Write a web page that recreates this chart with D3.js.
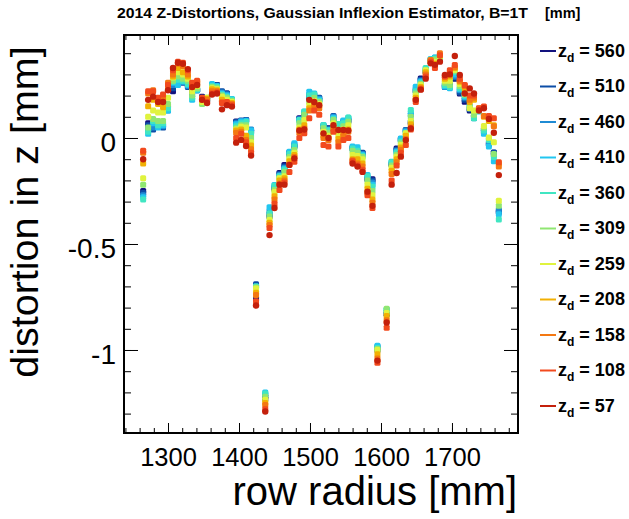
<!DOCTYPE html>
<html>
<head>
<meta charset="utf-8">
<script src="https://cdn.jsdelivr.net/npm/d3@7"></script>
<style>
  body { margin: 0; background: #fff; }
  svg { display: block; font-family: "Liberation Sans", Arial, Helvetica, sans-serif; }
</style>
</head>
<body>
<div id="chart"></div>
<script>
// row radii [mm]
var radius = [1265, 1272, 1279, 1286, 1293, 1300, 1307, 1314, 1321, 1328,
  1334, 1341, 1348, 1355, 1362, 1369, 1376, 1383, 1390, 1396,
  1403, 1410, 1417, 1424, 1437, 1443, 1450, 1457, 1464, 1471,
  1478, 1485, 1492, 1499, 1506, 1513, 1519, 1526, 1533, 1540,
  1547, 1554, 1560, 1567, 1574, 1581, 1588, 1595, 1608, 1615,
  1622, 1628, 1635, 1642, 1649, 1656, 1663, 1670, 1676, 1683,
  1690, 1697, 1704, 1711, 1718, 1725, 1731, 1738, 1745, 1752,
  1759, 1766];

// distortion in z [mm], one array per drift distance z_d
var z560 = [-0.25, 0.07, 0.06, 0.07, 0.06, 0.15, 0.22, 0.30, 0.27, 0.25,
  0.235, 0.226, 0.195, 0.185, 0.24, 0.25, 0.215, 0.21, 0.17, 0.078,
  0.08, 0.085, 0.03, -0.76, -1.23, -0.37, -0.24, -0.165, -0.127, -0.075,
  -0.04, 0.093, 0.11, 0.19, 0.19, 0.18, 0.05, 0.046, 0.09, 0.05,
  0.07, 0.08, -0.05, -0.107, -0.072, -0.195, -0.195, -1.0, -0.83, -0.125,
  -0.05, -0.005, 0.035, 0.07, 0.22, 0.281, 0.31, 0.36, 0.37, 0.37,
  0.24, 0.245, 0.28, 0.21, 0.171, 0.13, 0.1, 0.13, 0.04, -0.025,
  -0.07, -0.35];
var z510 = [-0.26, 0.06, 0.04, 0.06, 0.05, 0.14, 0.235, 0.28, 0.26, 0.24,
  0.22, 0.225, 0.19, 0.18, 0.245, 0.25, 0.22, 0.21, 0.175, 0.075,
  0.082, 0.085, 0.035, -0.69, -1.22, -0.36, -0.235, -0.17, -0.135, -0.07,
  -0.035, 0.09, 0.115, 0.2, 0.2, 0.19, 0.055, 0.045, 0.104, 0.046,
  0.075, 0.085, -0.045, -0.09, -0.07, -0.19, -0.2, -0.99, -0.83, -0.125,
  -0.055, -0.01, 0.038, 0.075, 0.225, 0.275, 0.315, 0.365, 0.375, 0.375,
  0.245, 0.25, 0.285, 0.215, 0.18, 0.135, 0.095, 0.135, 0.038, -0.03,
  -0.068, -0.345];
var z460 = [-0.27, 0.04, 0.05, 0.055, 0.055, 0.13, 0.25, 0.27, 0.27, 0.245,
  0.20, 0.225, 0.18, 0.18, 0.25, 0.245, 0.215, 0.205, 0.18, 0.07,
  0.08, 0.082, 0.04, -0.70, -1.21, -0.345, -0.23, -0.175, -0.14, -0.068,
  -0.03, 0.088, 0.12, 0.205, 0.205, 0.185, 0.058, 0.04, 0.1, 0.06,
  0.08, 0.09, -0.05, -0.06, -0.075, -0.185, -0.21, -0.985, -0.82, -0.118,
  -0.06, -0.01, 0.035, 0.11, 0.235, 0.27, 0.32, 0.37, 0.378, 0.38,
  0.25, 0.24, 0.29, 0.225, 0.19, 0.14, 0.093, 0.13, 0.03, -0.03,
  -0.08, -0.34];
var z410 = [-0.28, 0.02, 0.07, 0.05, 0.06, 0.13, 0.26, 0.25, 0.265, 0.25,
  0.18, 0.225, 0.17, 0.18, 0.255, 0.245, 0.21, 0.2, 0.184, 0.065,
  0.078, 0.08, 0.035, -0.70, -1.20, -0.327, -0.222, -0.18, -0.145, -0.065,
  -0.025, 0.082, 0.125, 0.218, 0.21, 0.18, 0.061, 0.038, 0.095, 0.065,
  0.082, 0.095, -0.04, -0.044, -0.08, -0.175, -0.22, -0.98, -0.81, -0.112,
  -0.065, -0.002, 0.03, 0.12, 0.242, 0.265, 0.325, 0.372, 0.38, 0.385,
  0.242, 0.235, 0.3, 0.23, 0.195, 0.15, 0.1, 0.125, 0.02, -0.04,
  -0.11, -0.36];
var z360 = [-0.29, 0.03, 0.08, 0.06, 0.07, 0.14, 0.265, 0.275, 0.27, 0.255,
  0.19, 0.23, 0.165, 0.185, 0.245, 0.24, 0.205, 0.195, 0.18, 0.055,
  0.07, 0.075, 0.02, -0.70, -1.205, -0.355, -0.225, -0.18, -0.15, -0.075,
  -0.04, 0.085, 0.124, 0.2, 0.205, 0.175, 0.06, 0.035, 0.09, 0.066,
  0.07, 0.097, -0.05, -0.06, -0.085, -0.18, -0.23, -0.99, -0.81, -0.115,
  -0.07, -0.017, 0.025, 0.132, 0.22, 0.26, 0.33, 0.37, 0.375, 0.38,
  0.25, 0.24, 0.31, 0.235, 0.2, 0.148, 0.093, 0.128, 0.035, -0.01,
  -0.09, -0.385];
var z309 = [-0.22, 0.05, 0.09, 0.08, 0.08, 0.16, 0.27, 0.29, 0.28, 0.27,
  0.20, 0.235, 0.16, 0.19, 0.24, 0.235, 0.2, 0.19, 0.175, 0.046,
  0.06, 0.06, 0.0, -0.705, -1.22, -0.37, -0.245, -0.19, -0.16, -0.09,
  -0.057, 0.07, 0.11, 0.17, 0.19, 0.17, 0.046, 0.025, 0.085, 0.04,
  0.055, 0.077, -0.06, -0.07, -0.09, -0.2, -0.25, -0.995, -0.805, -0.13,
  -0.08, -0.025, 0.02, 0.1, 0.21, 0.255, 0.32, 0.365, 0.37, 0.38,
  0.26, 0.25, 0.32, 0.245, 0.205, 0.145, 0.11, 0.13, 0.05, 0.0,
  -0.075, -0.32];
var z259 = [-0.19, 0.10, 0.13, 0.12, 0.12, 0.19, 0.285, 0.31, 0.30, 0.28,
  0.22, 0.245, 0.17, 0.19, 0.235, 0.23, 0.195, 0.18, 0.17, 0.04,
  0.053, 0.05, -0.02, -0.71, -1.235, -0.387, -0.255, -0.19, -0.18, -0.1,
  -0.07, 0.05, 0.085, 0.155, 0.175, 0.16, 0.03, 0.01, 0.07, 0.015,
  0.04, 0.06, -0.08, -0.085, -0.1, -0.22, -0.27, -1.0, -0.825, -0.14,
  -0.088, -0.033, 0.022, 0.08, 0.2, 0.25, 0.32, 0.36, 0.36, 0.385,
  0.27, 0.27, 0.32, 0.255, 0.21, 0.14, 0.13, 0.135, 0.057, 0.002,
  -0.02, -0.296];
var z208 = [-0.12, 0.15, 0.18, 0.16, 0.145, 0.23, 0.29, 0.33, 0.31, 0.29,
  0.24, 0.26, 0.18, 0.185, 0.23, 0.225, 0.18, 0.165, 0.165, 0.035,
  0.04, 0.01, -0.035, -0.73, -1.25, -0.40, -0.275, -0.2, -0.19, -0.11,
  -0.08, 0.04, 0.06, 0.14, 0.16, 0.15, 0.01, 0.0, 0.05, -0.005,
  0.02, 0.04, -0.1, -0.1, -0.12, -0.24, -0.29, -1.02, -0.84, -0.155,
  -0.1, -0.045, 0.01, 0.065, 0.19, 0.24, 0.31, 0.365, 0.35, 0.39,
  0.28, 0.29, 0.33, 0.265, 0.23, 0.17, 0.18, 0.14, 0.1, 0.08,
  0.06, -0.12];
var z158 = [-0.07, 0.21, 0.225, 0.185, 0.19, 0.26, 0.30, 0.35, 0.34, 0.30,
  0.25, 0.265, 0.185, 0.18, 0.22, 0.22, 0.17, 0.16, 0.16, 0.025,
  0.03, -0.01, -0.053, -0.74, -1.26, -0.41, -0.29, -0.215, -0.2, -0.125,
  -0.09, 0.025, 0.045, 0.13, 0.15, 0.14, 0.0, -0.01, 0.04, -0.02,
  0.01, 0.03, -0.105, -0.12, -0.135, -0.26, -0.305, -1.04, -0.86, -0.17,
  -0.115, -0.055, -0.005, 0.05, 0.18, 0.235, 0.3, 0.368, 0.34, 0.4,
  0.29, 0.31, 0.335, 0.27, 0.245, 0.18, 0.19, 0.135, 0.104, 0.1,
  0.055, -0.135];
var z108 = [-0.06, 0.22, 0.22, 0.19, 0.205, 0.25, 0.32, 0.36, 0.355, 0.32,
  0.26, 0.27, 0.19, 0.17, 0.21, 0.215, 0.165, 0.17, 0.155, 0.0,
  0.02, -0.02, -0.07, -0.77, -1.28, -0.425, -0.31, -0.245, -0.21, -0.16,
  -0.112, 0.0, 0.022, 0.093, 0.13, 0.11, -0.033, -0.04, 0.03, -0.04,
  -0.01, 0.0, -0.11, -0.13, -0.15, -0.27, -0.33, -1.06, -0.895, -0.2,
  -0.13, -0.07, -0.033, 0.04, 0.17, 0.23, 0.29, 0.36, 0.33, 0.39,
  0.29, 0.32, 0.344, 0.28, 0.25, 0.2, 0.2, 0.14, 0.148, 0.104,
  0.093, -0.115];
var z57 = [-0.10, 0.18, 0.195, 0.17, 0.17, 0.225, 0.33, 0.355, 0.35, 0.325,
  0.24, 0.25, 0.18, 0.165, 0.205, 0.21, 0.135, 0.155, 0.148, -0.022,
  -0.009, -0.038, -0.083, -0.79, -1.29, -0.458, -0.33, -0.22, -0.22, -0.127,
  -0.096, 0.035, 0.04, 0.18, 0.17, 0.155, 0.022, 0.0, 0.06, 0.038,
  0.038, 0.035, -0.12, -0.135, -0.16, -0.253, -0.32, -1.05, -0.87, -0.22,
  -0.165, -0.088, -0.01, 0.045, 0.18, 0.228, 0.28, 0.352, 0.345, 0.36,
  0.297, 0.3, 0.387, 0.297, 0.21, 0.234, 0.21, 0.13, 0.14, 0.09,
  0.025, -0.175];

var driftLabels = ["560", "510", "460", "410", "360", "309", "259", "208", "158", "108", "57"];
var driftValues = [z560, z510, z460, z410, z360, z309, z259, z208, z158, z108, z57];
var driftColors = ["#12127e", "#0c4da6", "#1f8bd4", "#22c6f0", "#40e6c2", "#90e672",
                   "#e0f33e", "#f2b004", "#f47812", "#f24a1e", "#c4200c"];

var xTicks = [1300, 1400, 1500, 1600, 1700];
var yTicks = [-1, -0.5, 0];

var width = 629, height = 519;
var frame = {left: 124, right: 518, top: 35, bottom: 433};

var svg = d3.select("#chart").append("svg")
    .attr("width", width)
    .attr("height", height);

var x = d3.scaleLinear().domain([1238, 1793]).range([frame.left, frame.right]);
var y = d3.scaleLinear().domain([-1.3915, 0.4858]).range([frame.bottom, frame.top]);

// minor ticks
var xMinor = d3.range(1240, 1791, 20);
var yMinor = d3.range(-13, 5).map(function(d) { return d / 10; });

function styleAxis(g) {
  g.select(".domain").remove();
  g.selectAll(".tick line").attr("stroke", "#000").attr("stroke-width", 1);
}

// bottom
svg.append("g").attr("transform", "translate(0," + frame.bottom + ")")
  .call(d3.axisBottom(x).tickValues(xMinor).tickSize(-5).tickFormat(""))
  .call(styleAxis);
svg.append("g").attr("class", "xaxis").attr("transform", "translate(0," + frame.bottom + ")")
  .call(d3.axisBottom(x).tickValues(xTicks).tickSize(-10).tickPadding(15).tickFormat(d3.format("d")))
  .call(styleAxis);
// top
svg.append("g").attr("transform", "translate(0," + frame.top + ")")
  .call(d3.axisTop(x).tickValues(xMinor).tickSize(-5).tickFormat(""))
  .call(styleAxis);
svg.append("g").attr("transform", "translate(0," + frame.top + ")")
  .call(d3.axisTop(x).tickValues(xTicks).tickSize(-10).tickFormat(""))
  .call(styleAxis);
// left
svg.append("g").attr("transform", "translate(" + frame.left + ",0)")
  .call(d3.axisLeft(y).tickValues(yMinor).tickSize(-7).tickFormat(""))
  .call(styleAxis);
svg.append("g").attr("class", "yaxis").attr("transform", "translate(" + frame.left + ",0)")
  .call(d3.axisLeft(y).tickValues(yTicks).tickSize(-14).tickPadding(8).tickFormat(function(d) { return String(d); }))
  .call(styleAxis);
// right
svg.append("g").attr("transform", "translate(" + frame.right + ",0)")
  .call(d3.axisRight(y).tickValues(yMinor).tickSize(-7).tickFormat(""))
  .call(styleAxis);
svg.append("g").attr("transform", "translate(" + frame.right + ",0)")
  .call(d3.axisRight(y).tickValues(yTicks).tickSize(-14).tickFormat(""))
  .call(styleAxis);

svg.selectAll(".xaxis text")
  .attr("font-size", 25.5)
  .attr("font-family", "Liberation Sans, Arial, sans-serif")
  .attr("fill", "#000");
svg.selectAll(".yaxis text")
  .attr("font-size", 28)
  .attr("dy", "0.48em")
  .attr("font-family", "Liberation Sans, Arial, sans-serif")
  .attr("fill", "#000");

// frame
svg.append("rect")
  .attr("x", frame.left)
  .attr("y", frame.top)
  .attr("width", frame.right - frame.left)
  .attr("height", frame.bottom - frame.top)
  .attr("fill", "none")
  .attr("stroke", "#000")
  .attr("stroke-width", 2);

// points, largest drift first so z_d = 57 ends on top
var pts = svg.append("g");
driftValues.forEach(function(vals, si) {
  var g = pts.append("g").attr("fill", driftColors[si]);
  var data = vals.map(function(v, i) { return {r: radius[i], v: v}; });
  if (driftLabels[si] == "57") {
    g.selectAll("circle").data(data).enter().append("circle")
      .attr("cx", function(d) { return x(d.r); })
      .attr("cy", function(d) { return y(d.v); })
      .attr("r", 3.2);
  } else {
    g.selectAll("rect").data(data).enter().append("rect")
      .attr("x", function(d) { return x(d.r) - 3; })
      .attr("y", function(d) { return y(d.v) - 3; })
      .attr("width", 6)
      .attr("height", 6)
      .attr("rx", 1.5);
  }
});

// title
svg.append("text")
  .attr("x", 117).attr("y", 18)
  .attr("font-size", 14.5).attr("font-weight", "bold")
  .attr("textLength", 411).attr("lengthAdjust", "spacingAndGlyphs")
  .text("2014 Z-Distortions, Gaussian Inflexion Estimator, B=1T");
svg.append("text")
  .attr("x", 545).attr("y", 18)
  .attr("font-size", 14.5).attr("font-weight", "bold")
  .text("[mm]");

// axis titles
svg.append("text")
  .attr("transform", "translate(38,212) rotate(-90)")
  .attr("text-anchor", "middle")
  .attr("font-size", 39.5)
  .text("distortion in z [mm]");
svg.append("text")
  .attr("x", 517).attr("y", 505)
  .attr("text-anchor", "end")
  .attr("font-size", 40)
  .text("row radius [mm]");

// legend
var legend = svg.append("g");
driftLabels.forEach(function(lab, i) {
  var ly = 51 + i * 35.5;
  legend.append("line")
    .attr("x1", 540).attr("x2", 556)
    .attr("y1", ly).attr("y2", ly)
    .attr("stroke", driftColors[i])
    .attr("stroke-width", 2);
  var t = legend.append("text")
    .attr("x", 558).attr("y", ly + 5.5)
    .attr("font-size", 18).attr("font-weight", "bold")
    .style("white-space", "pre");
  t.append("tspan").text("z");
  t.append("tspan").attr("font-size", 12).attr("dy", 5).text("d");
  t.append("tspan").attr("dy", -5).text(" = " + lab);
});
</script>
</body>
</html>
